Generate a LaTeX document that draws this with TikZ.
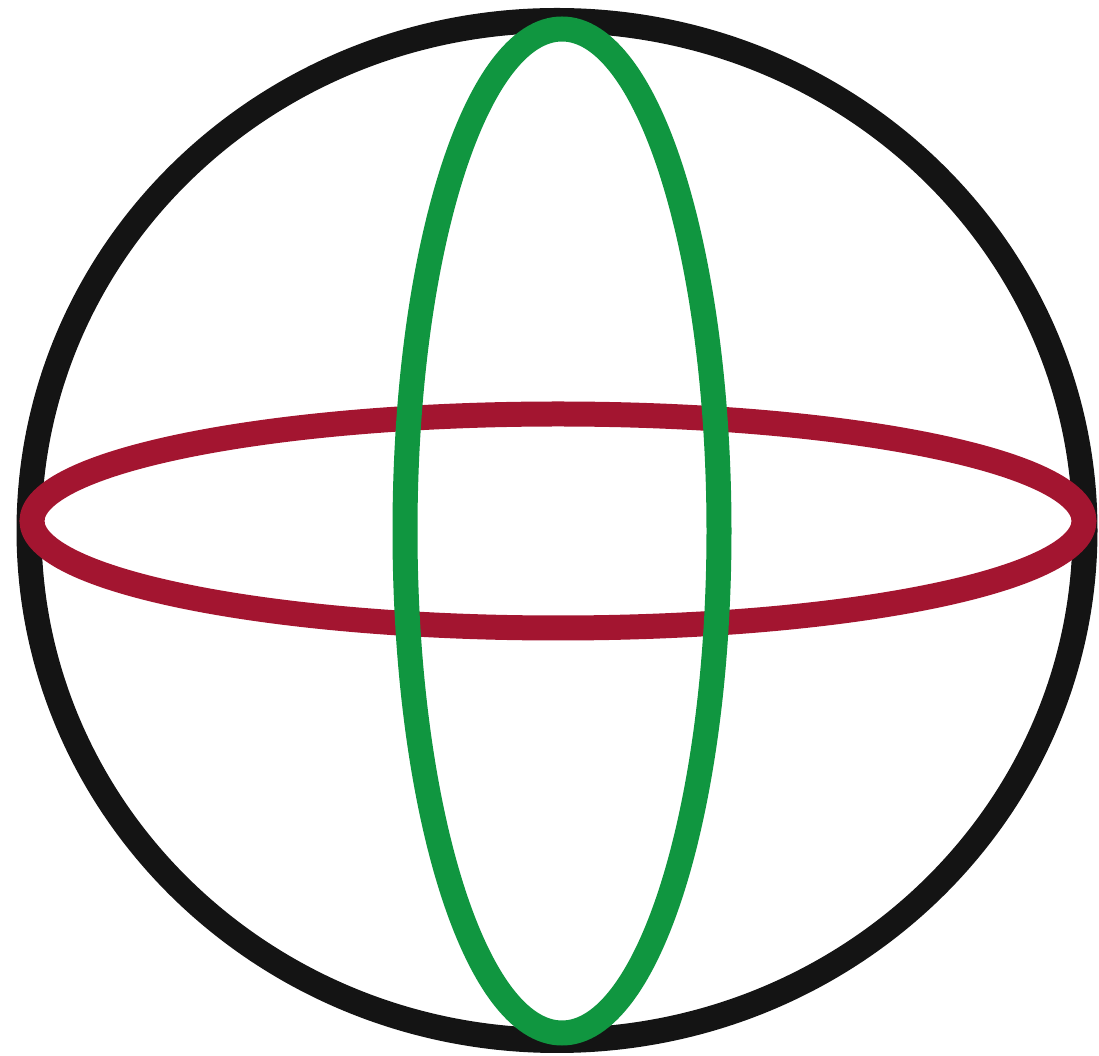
\documentclass[tikz,border=0pt]{standalone}
\usepackage{tikz}

\definecolor{ringblack}{RGB}{20,20,20}
\definecolor{ringred}{RGB}{163,21,48}
\definecolor{ringgreen}{RGB}{16,150,64}

\begin{document}
\begin{tikzpicture}[
    % Ring styles
    ring/.style={line width=0.25cm},
    sphere/.style={ring, draw=ringblack},
    equator/.style={ring, draw=ringred},
    meridian/.style={ring, draw=ringgreen},
  ]

  % === Frame ===
  \useasboundingbox (0,0) rectangle (10.99,10.56);

  % === Outline of the sphere ===
  \draw[sphere] (5.57,5.255) ellipse [x radius=5.28cm, y radius=5.10cm];

  % Horizontal ring
  \draw[equator] (5.58,5.35) ellipse [x radius=5.26cm, y radius=1.07cm];

  % Vertical ring
  \draw[meridian] (5.62,5.25) ellipse [x radius=1.57cm, y radius=5.02cm];

\end{tikzpicture}
\end{document}
